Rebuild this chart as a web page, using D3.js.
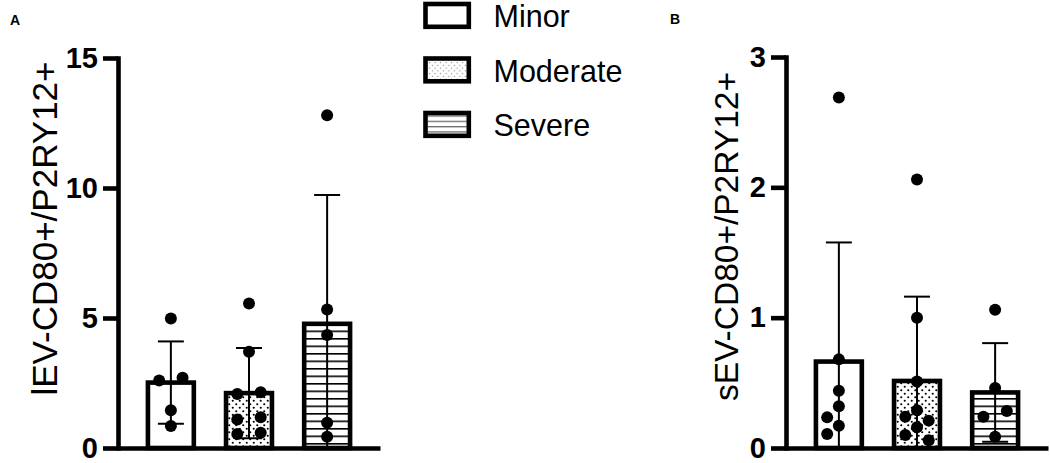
<!DOCTYPE html>
<html>
<head>
<meta charset="utf-8">
<script src="https://cdn.jsdelivr.net/npm/d3@7"></script>
<style>
  body { margin: 0; background: #fff; }
  svg { display: block; font-family: "Liberation Sans", Arial, sans-serif; }
</style>
</head>
<body>
<script>
// severity groups
const groups = ["Minor", "Moderate", "Severe"];

// panel A: lEV-CD80+/P2RY12+ per patient
const lEVMinor = [4.98, 2.7, 2.6, 1.45, 0.85];
const lEVModerate = [5.56, 3.7, 2.14, 2.08, 1.18, 1.1, 0.59, 0.54];
const lEVSevere = [12.8, 5.33, 4.35, 0.97, 0.43];
const lEVTicks = [0, 5, 10, 15];

// panel B: sEV-CD80+/P2RY12+ per patient
const sEVMinor = [2.69, 0.68, 0.44, 0.32, 0.235, 0.17, 0.107];
const sEVModerate = [2.06, 1.0, 0.51, 0.29, 0.24, 0.21, 0.16, 0.1, 0.06];
const sEVSevere = [1.06, 0.46, 0.284, 0.24, 0.087];
const sEVTicks = [0, 1, 2, 3];

let width = 1050, height = 463;
const baseY = 448;

let svg = d3.select("body")
  .append("svg")
  .attr("width", width)
  .attr("height", height);

// fill patterns for bars and legend
const defs = svg.append("defs");

function dotPattern(id, size, r, color) {
  const p = defs.append("pattern")
    .attr("id", id)
    .attr("patternUnits", "userSpaceOnUse")
    .attr("width", size).attr("height", size);
  p.append("circle").attr("cx", size / 4).attr("cy", size / 4).attr("r", r).attr("fill", color);
  p.append("circle").attr("cx", size * 3 / 4).attr("cy", size * 3 / 4).attr("r", r).attr("fill", color);
}
function linePattern(id, gap, thick, color, shift) {
  const p = defs.append("pattern")
    .attr("id", id)
    .attr("patternUnits", "userSpaceOnUse")
    .attr("width", 10).attr("height", gap)
    .attr("patternTransform", `translate(0,${shift})`);
  p.append("rect").attr("x", 0).attr("y", 0).attr("width", 10).attr("height", thick).attr("fill", color);
}
dotPattern("dots", 7, 1.05, "#000");
linePattern("lines", 7.5, 1.6, "#000", 0.5);
dotPattern("dotsLegend", 5.5, 0.7, "#8a8a8a");
linePattern("linesLegend", 5.3, 1.3, "#6a6a6a", 2.4);

const fills = { Minor: null, Moderate: "url(#dots)", Severe: "url(#lines)" };
const legendFills = { Minor: null, Moderate: "url(#dotsLegend)", Severe: "url(#linesLegend)" };

// GraphPad-like scatter: spread points that would overlap
function swarm(values, y) {
  const s = 11.7, T = 13;
  const placed = [];
  values.slice().sort((a, b) => b - a).forEach(v => {
    const py = y(v);
    const hits = dx => placed.filter(q => Math.hypot(q.dx - dx, q.py - py) < T);
    const h = hits(0);
    if (!h.length) { placed.push({ v, py, dx: 0 }); return; }
    if (h.length === 1 && h[0].dx === 0 && Math.abs(h[0].py - py) < 6) {
      h[0].dx = s;
      placed.push({ v, py, dx: -s });
      return;
    }
    for (const dx of [-s, s, -2 * s, 2 * s]) {
      if (!hits(dx).length) { placed.push({ v, py, dx }); return; }
    }
    placed.push({ v, py, dx: 0 });
  });
  return placed;
}

function drawPanel(p) {
  const g = svg.append("g");

  const y = d3.scaleLinear()
    .domain([0, d3.max(p.ticks)])
    .range([baseY, p.top]);

  const x = d3.scaleBand()
    .domain(groups)
    .range([p.axisX, p.axisX + 262])
    .paddingInner(0.4125)
    .paddingOuter(0.383);

  const stats = groups.map((k, i) => ({
    key: k,
    values: p.series[i],
    mean: d3.mean(p.series[i]),
    sd: d3.deviation(p.series[i])
  }));

  const bars = g.selectAll(".bar").data(stats).enter().append("g");

  // white bar body
  bars.append("rect")
    .attr("x", d => x(d.key))
    .attr("y", d => y(d.mean))
    .attr("width", x.bandwidth())
    .attr("height", d => y(0) - y(d.mean))
    .attr("fill", "#fff");

  // individual patients
  bars.each(function(d) {
    const cx = x(d.key) + x.bandwidth() / 2;
    d3.select(this).selectAll("circle")
      .data(swarm(d.values, y))
      .enter()
      .append("circle")
      .attr("cx", q => cx + q.dx)
      .attr("cy", q => q.py)
      .attr("r", 6)
      .attr("fill", "#000");
  });

  // pattern overlay
  bars.filter(d => fills[d.key])
    .append("rect")
    .attr("x", d => x(d.key))
    .attr("y", d => y(d.mean))
    .attr("width", x.bandwidth())
    .attr("height", d => y(0) - y(d.mean))
    .attr("fill", d => fills[d.key]);

  // mean +/- SD
  bars.each(function(d) {
    const cx = x(d.key) + x.bandwidth() / 2;
    const hi = d.mean + d.sd, lo = Math.max(0, d.mean - d.sd);
    const e = d3.select(this).append("g").attr("stroke", "#000").attr("stroke-width", 2);
    e.append("line").attr("x1", cx).attr("x2", cx).attr("y1", y(hi)).attr("y2", y(lo));
    e.append("line").attr("x1", cx - 13).attr("x2", cx + 13).attr("y1", y(hi)).attr("y2", y(hi));
    if (d.mean - d.sd > 0) {
      e.append("line").attr("x1", cx - 13).attr("x2", cx + 13).attr("y1", y(lo)).attr("y2", y(lo));
    }
  });

  // bar outline
  bars.append("rect")
    .attr("x", d => x(d.key))
    .attr("y", d => y(d.mean))
    .attr("width", x.bandwidth())
    .attr("height", d => y(0) - y(d.mean))
    .attr("fill", "none")
    .attr("stroke", "#000")
    .attr("stroke-width", 4.6);

  // x axis (line only)
  const xAxis = g.append("g")
    .attr("transform", `translate(0,${baseY})`)
    .call(d3.axisBottom(x).tickSize(0).tickSizeOuter(0).tickFormat(""));
  xAxis.select(".domain").attr("stroke-width", 4.6);

  // y axis
  const yAxis = g.append("g")
    .attr("transform", `translate(${p.axisX},0)`)
    .call(d3.axisLeft(y).tickValues(p.ticks).tickFormat(d3.format("d"))
      .tickSize(15).tickSizeOuter(0).tickPadding(5));
  yAxis.select(".domain").attr("stroke-width", 4.6).attr("stroke-linecap", "square");
  yAxis.selectAll(".tick line").attr("stroke-width", 4.6);
  yAxis.selectAll(".tick text")
    .attr("font-family", "Liberation Sans, Arial, sans-serif")
    .attr("font-size", 29)
    .attr("font-weight", "bold")
    .attr("fill", "#000");

  // y axis title
  g.append("text")
    .attr("transform", `translate(${p.titleX},${p.titleY})rotate(-90)`)
    .style("text-anchor", "middle")
    .attr("font-size", p.titleSize)
    .text(p.title);

  // panel letter
  g.append("text")
    .attr("x", p.labelX)
    .attr("y", p.labelY)
    .attr("font-size", 14)
    .attr("font-weight", "bold")
    .text(p.label);
}

drawPanel({
  series: [lEVMinor, lEVModerate, lEVSevere],
  ticks: lEVTicks,
  axisX: 118, top: 58,
  title: "lEV-CD80+/P2RY12+", titleX: 57, titleY: 228.5, titleSize: 35,
  label: "A", labelX: 10, labelY: 25
});

drawPanel({
  series: [sEVMinor, sEVModerate, sEVSevere],
  ticks: sEVTicks,
  axisX: 786, top: 57,
  title: "sEV-CD80+/P2RY12+", titleX: 738, titleY: 236.5, titleSize: 33.5,
  label: "B", labelX: 670, labelY: 24
});

// legend
const legend = svg.append("g")
  .selectAll("g")
  .data(groups)
  .enter()
  .append("g")
  .attr("transform", (d, i) => `translate(425.5,${4 + i * 54.5})`);

legend.append("rect")
  .attr("width", 43.3).attr("height", 22.8)
  .attr("fill", "#fff");
legend.filter(d => legendFills[d])
  .append("rect")
  .attr("x", 2).attr("y", 2)
  .attr("width", 39.3).attr("height", 18.8)
  .attr("fill", d => legendFills[d]);
legend.append("rect")
  .attr("width", 43.3).attr("height", 22.8)
  .attr("fill", "none")
  .attr("stroke", "#000")
  .attr("stroke-width", 4.6);
legend.append("text")
  .attr("x", 68)
  .attr("y", 23)
  .attr("font-size", 30.5)
  .text(d => d);
</script>
</body>
</html>
